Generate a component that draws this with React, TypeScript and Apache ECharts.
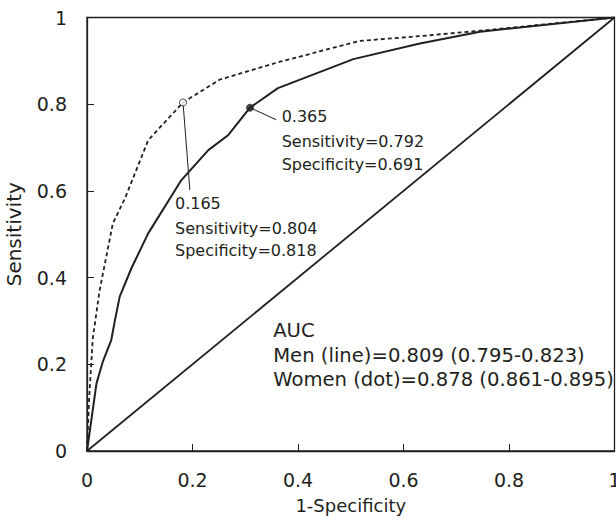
import React, { useEffect, useRef } from "react";
import * as echarts from "echarts";

// Men (solid line) ROC points: false-positive rate (1-specificity) and sensitivity
const menFpr = [0, 0.018, 0.03, 0.046, 0.053, 0.062, 0.084, 0.116, 0.179, 0.23, 0.268, 0.309, 0.362, 0.505, 0.631, 0.745, 1];
const menSens = [0, 0.156, 0.206, 0.256, 0.302, 0.356, 0.421, 0.502, 0.625, 0.694, 0.729, 0.792, 0.837, 0.904, 0.94, 0.967, 1];

// Women (dotted line) ROC points
const womenFpr = [0, 0.004, 0.011, 0.024, 0.049, 0.072, 0.116, 0.182, 0.252, 0.366, 0.517, 0.631, 0.758, 1];
const womenSens = [0, 0.12, 0.26, 0.371, 0.525, 0.583, 0.717, 0.804, 0.857, 0.898, 0.946, 0.957, 0.971, 1];

// Reference diagonal
const diagX = [0, 1];
const diagY = [0, 1];

// Cut-off points
const womenCut = [0.182, 0.804];
const menCut = [0.309, 0.792];

// Leader line ends (data coords)
const womenLeaderEnd = [0.195, 0.602];
const menLeaderEnd = [0.359, 0.764];

// Annotation texts
const womenLines = ["0.165", "Sensitivity=0.804", "Specificity=0.818"];
const womenLineX = 0.1668;
const womenLineY = [0.571, 0.514, 0.463];

const menLines = ["0.365", "Sensitivity=0.792", "Specificity=0.691"];
const menLineX = 0.369;
const menLineY = [0.771, 0.715, 0.662];

const aucLines = ["AUC", "Men (line)=0.809 (0.795-0.823)", "Women (dot)=0.878 (0.861-0.895)"];
const aucLineX = 0.353;
const aucLineY = [0.279, 0.221, 0.164];

const INK = "#231f20";
const FONT = "DejaVu Sans";

export default function App() {
  const ref = useRef<HTMLDivElement>(null);
  useEffect(() => {
    document.body.style.margin = "0";
    const chart = echarts.init(ref.current!, null, { renderer: "svg" });
    const zip = (xs: number[], ys: number[]) => xs.map((x, i) => [x, ys[i]]);
    chart.setOption({
      animation: false,
      backgroundColor: "#fff",
      grid: {
        left: 87,
        top: 17.5,
        right: 1.5,
        bottom: 70,
        show: true,
        borderColor: INK,
        borderWidth: 1.3,
        containLabel: false,
        outerBoundsMode: "none",
      },
      xAxis: {
        type: "value",
        min: 0,
        max: 1,
        interval: 0.2,
        name: "1-Specificity",
        nameLocation: "middle",
        nameGap: 45,
        nameTextStyle: { fontFamily: FONT, fontSize: 18, color: INK },
        axisLine: { show: true, lineStyle: { color: INK, width: 1.3 } },
        axisTick: { show: true, inside: true, length: 7, lineStyle: { color: INK, width: 1 } },
        axisLabel: { fontFamily: FONT, fontSize: 19, color: INK, margin: 19 },
        splitLine: { show: false },
      },
      yAxis: {
        type: "value",
        min: 0,
        max: 1,
        interval: 0.2,
        name: "Sensitivity",
        nameLocation: "middle",
        nameGap: 63,
        nameTextStyle: { fontFamily: FONT, fontSize: 20, color: INK },
        axisLine: { show: true, lineStyle: { color: INK, width: 1.3 } },
        axisTick: { show: true, inside: true, length: 7, lineStyle: { color: INK, width: 1 } },
        axisLabel: { fontFamily: FONT, fontSize: 19, color: INK, margin: 20 },
        splitLine: { show: false },
      },
      series: [
        {
          type: "line",
          data: zip(diagX, diagY),
          symbol: "none",
          lineStyle: { color: INK, width: 1.8 },
          silent: true,
        },
        {
          type: "line",
          data: zip(womenFpr, womenSens),
          symbol: "none",
          lineStyle: { color: INK, width: 1.8, type: [4, 3] },
          silent: true,
        },
        {
          type: "line",
          data: zip(menFpr, menSens),
          symbol: "none",
          lineStyle: { color: INK, width: 2 },
          silent: true,
        },
        {
          type: "line",
          data: [womenCut, womenLeaderEnd],
          symbol: "none",
          lineStyle: { color: INK, width: 1 },
          silent: true,
        },
        {
          type: "line",
          data: [menCut, menLeaderEnd],
          symbol: "none",
          lineStyle: { color: INK, width: 1 },
          silent: true,
        },
        {
          type: "scatter",
          data: [womenCut],
          symbol: "circle",
          symbolSize: 7,
          itemStyle: { color: "#fff", borderColor: INK, borderWidth: 1 },
          silent: true,
          z: 5,
        },
        {
          type: "scatter",
          data: [menCut],
          symbol: "circle",
          symbolSize: 7,
          itemStyle: { color: INK, borderColor: INK, borderWidth: 1 },
          silent: true,
          z: 5,
        },
      ],
    });

    const graphic: any[] = [];
    const addLines = (lines: string[], x: number, ys: number[], size: number) => {
      lines.forEach((t, i) => {
        const p = chart.convertToPixel({ gridIndex: 0 }, [x, ys[i]]) as number[];
        graphic.push({
          type: "text",
          x: p[0],
          y: p[1],
          silent: true,
          style: {
            text: t,
            fill: INK,
            font: `${size}px '${FONT}'`,
            textAlign: "left",
            textVerticalAlign: "middle",
          },
        });
      });
    };
    addLines(womenLines, womenLineX, womenLineY, 16);
    addLines(menLines, menLineX, menLineY, 16);
    addLines(aucLines, aucLineX, aucLineY, 19.6);
    chart.setOption({ graphic });

    return () => chart.dispose();
  }, []);
  return (
    <div
      ref={ref}
      style={{ position: "absolute", left: 0, top: 0, width: 616, height: 521 }}
    />
  );
}
